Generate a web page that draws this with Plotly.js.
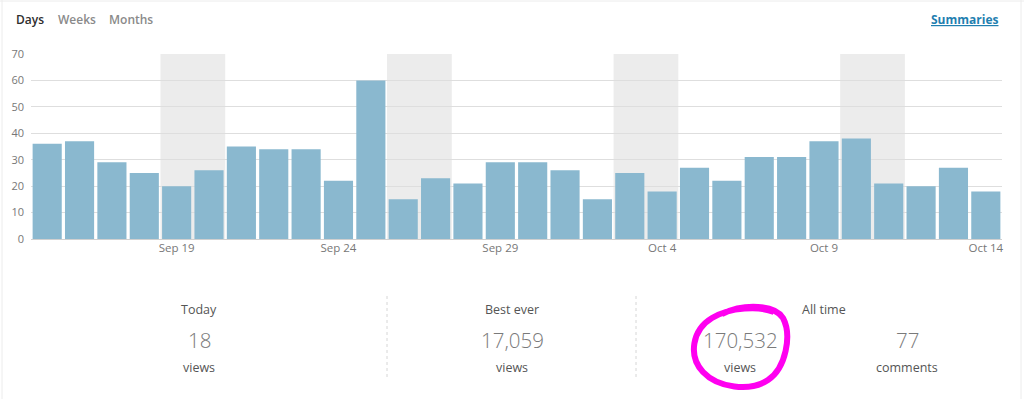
<!DOCTYPE html>
<html>
<head>
<meta charset="utf-8">
<script src="https://cdn.plot.ly/plotly-3.0.1.min.js"></script>
<style>
html,body{margin:0;padding:0;background:#fff;}
#chart{width:1024px;height:399px;}
</style>
</head>
<body>
<div id="chart"></div>
<script>
// ---- data ----
var days = ['2015-09-15','2015-09-16','2015-09-17','2015-09-18','2015-09-19','2015-09-20','2015-09-21',
  '2015-09-22','2015-09-23','2015-09-24','2015-09-25','2015-09-26','2015-09-27','2015-09-28',
  '2015-09-29','2015-09-30','2015-10-01','2015-10-02','2015-10-03','2015-10-04','2015-10-05',
  '2015-10-06','2015-10-07','2015-10-08','2015-10-09','2015-10-10','2015-10-11','2015-10-12',
  '2015-10-13','2015-10-14'];
var views = [36,37,29,25,20,26,35,34,34,22,60,15,23,21,29,29,26,15,25,18,27,22,31,31,37,38,21,20,27,18];
var tickDates = ['2015-09-19','2015-09-24','2015-09-29','2015-10-04','2015-10-09','2015-10-14'];
var tickLabels = ['Sep 19','Sep 24','Sep 29','Oct 4','Oct 9','Oct 14'];
var weekendStarts = ['2015-09-19','2015-09-26','2015-10-03','2015-10-10'];
var tabs = ['Days','Weeks','Months'];
var statTitles = ['Today','Best ever','All time'];
var statValues = ['18','17,059','170,532','77'];
var statUnits = ['views','views','views','comments'];

// ---- helpers ----
var W = 1024, H = 399;
function px(x){return x/W;}
function py(y){return 1 - y/H;}
function shiftHours(d, h){var t = new Date(d+'T00:00:00Z'); t = new Date(t.getTime()+h*3600000);
  return t.toISOString().slice(0,19).replace('T',' ');}
function pt(p){return px(p[0]) + ',' + py(p[1]);}

var font = '"Open Sans", "Segoe UI", Arial, sans-serif';

var shapes = weekendStarts.map(function(d){
  return {type:'rect', xref:'x', yref:'y', x0:shiftHours(d,-12), x1:shiftHours(d,36), y0:0, y1:70,
    fillcolor:'#ececec', line:{width:0}, layer:'below'};
});
// dotted separators
[387,636].forEach(function(x){
  shapes.push({type:'line', xref:'paper', yref:'paper', x0:px(x), x1:px(x), y0:py(296), y1:py(379),
    line:{color:'#d6d6d6', width:1, dash:'dot'}});
});
// card borders
shapes.push({type:'line', xref:'paper', yref:'paper', x0:px(2), x1:px(2), y0:0, y1:1, line:{color:'#ececec', width:1}});
shapes.push({type:'line', xref:'paper', yref:'paper', x0:px(1021), x1:px(1021), y0:0, y1:1, line:{color:'#ececec', width:1}});
shapes.push({type:'line', xref:'paper', yref:'paper', x0:0, x1:1, y0:py(1), y1:py(1), line:{color:'#ececec', width:1}});
// magenta hand-drawn loop (smooth cubic segments)
var segs = [
  [[722,314],[745,303],[775,305],[783,318]],
  [[783,318],[792,335],[786,368],[768,380]],
  [[768,380],[750,392],[718,388],[703,372]],
  [[703,372],[688,356],[692,330],[712,318]],
  [[712,318],[730,307],[760,306],[774,312]]
];
var path = 'M ' + pt(segs[0][0]);
segs.forEach(function(s){ path += ' C ' + pt(s[1]) + ' ' + pt(s[2]) + ' ' + pt(s[3]); });
shapes.push({type:'path', xref:'paper', yref:'paper', path:path, line:{color:'#ff00f0', width:6}, layer:'above'});

var annotations = [];
var tabX = [30, 77, 131];
tabs.forEach(function(t,i){
  annotations.push({text:t, xref:'paper', yref:'paper', x:px(tabX[i]), y:py(19), showarrow:false,
    xanchor:'center', yanchor:'middle',
    font:{family:font, size:12, color: i===0 ? '#2e2e2e' : '#8a8a8a', weight: 600}});
});
annotations.push({text:'<u>Summaries</u>', xref:'paper', yref:'paper', x:px(1001), y:py(19), showarrow:false,
  xanchor:'right', yanchor:'middle', font:{family:font, size:12, color:'#1f7fb0', weight:700}});

var titleX = [199, 512, 824];
statTitles.forEach(function(t,i){
  annotations.push({text:t, xref:'paper', yref:'paper', x:px(titleX[i]), y:py(309), showarrow:false,
    xanchor:'center', yanchor:'middle', font:{family:font, size:12.5, color:'#555'}});
});
var valX = [199, 512, 740, 907];
statValues.forEach(function(t,i){
  annotations.push({text:t, xref:'paper', yref:'paper', x:px(valX[i]), y:py(340), showarrow:false,
    xanchor:'center', yanchor:'middle', font:{family:font, size:20.5, color:'#7a7a7a', weight:300}});
  annotations.push({text:statUnits[i], xref:'paper', yref:'paper', x:px(valX[i]), y:py(367), showarrow:false,
    xanchor:'center', yanchor:'middle', font:{family:font, size:12.5, color:'#555'}});
});

var trace = {type:'bar', x:days, y:views, marker:{color:'#8ab8cf', line:{width:0}}, hoverinfo:'x+y'};

var layout = {
  width:W, height:H, margin:{l:0,r:0,t:0,b:0}, paper_bgcolor:'#fff', plot_bgcolor:'rgba(0,0,0,0)',
  showlegend:false, bargap:0.1,
  xaxis:{type:'date', domain:[px(31), px(1002)], range:[shiftHours(days[0],-12), shiftHours(days[days.length-1],12)],
    tickvals:tickDates, ticktext:tickLabels, showgrid:false, zeroline:false, showline:false, ticks:'',
    tickfont:{family:font, size:11.5, color:'#777'}, automargin:false, fixedrange:true},
  yaxis:{domain:[py(239), py(54)], range:[0,70], dtick:10, showgrid:true, gridcolor:'#dedede', gridwidth:1,
    zeroline:true, zerolinecolor:'#d0d0d0', zerolinewidth:1, showline:false, ticks:'', ticklabelstandoff:6,
    tickfont:{family:font, size:11, color:'#777'}, automargin:false, fixedrange:true},
  shapes:shapes, annotations:annotations
};
Plotly.newPlot('chart', [trace], layout, {displayModeBar:false, staticPlot:true});
</script>
</body>
</html>
